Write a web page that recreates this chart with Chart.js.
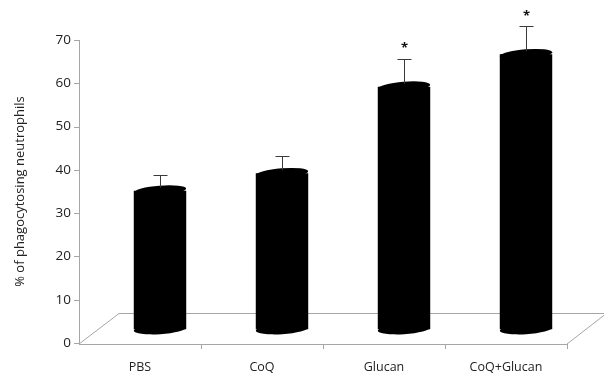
<!DOCTYPE html>
<html>
<head>
<meta charset="utf-8">
<script src="https://cdn.jsdelivr.net/npm/chart.js@4.4.1/dist/chart.umd.min.js"></script>
<style>
    html, body { margin: 0; padding: 0; background: #fff; overflow: hidden; }
    canvas { display: block; }
</style>
</head>
<body>
<canvas id="phagoChart" width="604" height="376"></canvas>
<script>
const categories = ['PBS', 'CoQ', 'Glucan', 'CoQ+Glucan'];
const means = [32, 36, 56, 63.5];
const errors = [3.5, 4, 6.5, 6.5];
const marks = ['', '', '*', '*'];
const yTicks = [0, 10, 20, 30, 40, 50, 60, 70];

const FONT = "'Open Sans', sans-serif";
const LINE = '#a6a6a6';
const DEPTH_X = 20;   // horizontal shift of the bar row into the "3D" floor
const DEPTH_Y = 3.2;  // same shift expressed in value units

// Draws the fake 3D floor, the y axis line and the tick marks
const floorPlugin = {
    id: 'floor',
    beforeDatasetsDraw(chart) {
        const ctx = chart.ctx;
        const area = chart.chartArea;
        const y = chart.scales.y;
        const x = chart.scales.x;
        const axisX = area.left - DEPTH_X;
        const front = y.getPixelForValue(0) + 1;
        const right = area.right - DEPTH_X;
        const back = front - 31;

        ctx.save();
        ctx.strokeStyle = LINE;
        ctx.lineWidth = 1;
        ctx.beginPath();
        // y axis
        ctx.moveTo(axisX + 0.5, y.getPixelForValue(70));
        ctx.lineTo(axisX + 0.5, front);
        yTicks.forEach(v => {
            const py = Math.round(y.getPixelForValue(v)) + 0.5;
            ctx.moveTo(axisX - 5, py);
            ctx.lineTo(axisX, py);
        });
        // floor outline
        ctx.moveTo(axisX, front + 0.5);
        ctx.lineTo(right, front + 0.5);
        ctx.moveTo(axisX, front);
        ctx.lineTo(axisX + 40, back + 0.5);
        ctx.lineTo(chart.width + 10, back + 0.5);
        ctx.moveTo(right, front);
        ctx.lineTo(right + 40, back);
        // category ticks on the front edge
        for (let i = 1; i <= categories.length; i++) {
            const px = Math.round(x.getPixelForValue(i - 0.5) - DEPTH_X) + 0.5;
            ctx.moveTo(px, front);
            ctx.lineTo(px, front + 5);
        }
        ctx.stroke();
        ctx.restore();
    },
    afterDatasetsDraw(chart) {
        const ctx = chart.ctx;
        const yb = chart.scales.yb;
        const bars = chart.getDatasetMeta(0).data;

        ctx.save();
        bars.forEach((bar, i) => {
            const half = bar.width / 2;
            // cylinder caps
            ctx.fillStyle = '#000';
            ctx.beginPath();
            ctx.ellipse(bar.x, bar.base, half, 5, -0.06, 0, Math.PI * 2);
            ctx.fill();
            ctx.beginPath();
            ctx.ellipse(bar.x, bar.y, half, 5, -0.08, 0, Math.PI * 2);
            ctx.fill();

            // error bar
            const top = yb.getPixelForValue(means[i] + errors[i]);
            const ex = Math.round(bar.x) + 0.5;
            ctx.strokeStyle = '#3a3a3a';
            ctx.lineWidth = 1;
            ctx.beginPath();
            ctx.moveTo(ex, bar.y - 3);
            ctx.lineTo(ex, Math.round(top) + 0.5);
            ctx.moveTo(ex - 7, Math.round(top) + 0.5);
            ctx.lineTo(ex + 7, Math.round(top) + 0.5);
            ctx.stroke();

            if (marks[i]) {
                ctx.fillStyle = '#111';
                ctx.font = 'bold 13px ' + FONT;
                ctx.textAlign = 'center';
                ctx.textBaseline = 'middle';
                ctx.fillText(marks[i], ex, top - 10);
            }
        });
        ctx.restore();
    }
};

const ctx = document.getElementById('phagoChart');
new Chart(ctx, {
    type: 'bar',
    data: {
        labels: categories,
        datasets: [{
            data: means,
            yAxisID: 'yb',
            backgroundColor: '#000',
            borderWidth: 0,
            categoryPercentage: 1,
            barPercentage: 0.43
        }]
    },
    options: {
        responsive: false,
        animation: false,
        layout: { padding: { top: 40, right: 17, bottom: 0, left: 0 } },
        plugins: {
            legend: { display: false },
            tooltip: { enabled: false }
        },
        scales: {
            x: {
                grid: { display: false, drawTicks: false },
                border: { display: false },
                ticks: {
                    color: '#222',
                    font: { family: FONT, size: 12.5 },
                    padding: 17,
                    labelOffset: -DEPTH_X,
                    autoSkip: false,
                    maxRotation: 0
                },
                afterFit: (scale) => { scale.height = 33; }
            },
            y: {
                min: 0,
                max: 70,
                afterBuildTicks: (scale) => { scale.ticks = yTicks.map(v => ({ value: v })); },
                // invisible tick marks push the labels left of the drawn axis
                grid: {
                    color: 'rgba(0,0,0,0)',
                    drawOnChartArea: false,
                    drawTicks: true,
                    tickLength: 24
                },
                border: { display: false },
                ticks: {
                    color: '#222',
                    font: { family: FONT, size: 13.5 },
                    padding: 4
                },
                title: {
                    display: true,
                    text: '% of phagocytosing neutrophils',
                    color: '#222',
                    font: { family: FONT, size: 13 },
                    padding: { top: 12, bottom: 0 }
                },
                afterFit: (scale) => { scale.width = 99; }
            },
            yb: {
                display: false,
                min: -DEPTH_Y,
                max: 70 - DEPTH_Y
            }
        }
    },
    plugins: [floorPlugin]
});
</script>
</body>
</html>
